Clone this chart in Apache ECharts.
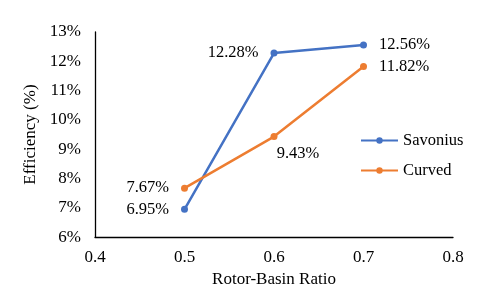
<!DOCTYPE html>
<html><head><meta charset="utf-8">
<script src="https://cdn.jsdelivr.net/npm/echarts@6/dist/echarts.min.js"></script>
<style>html,body{margin:0;padding:0;background:#fff}#c{width:480px;height:293px}</style>
</head><body><div id="c"></div>
<script>
var ratios = [0.5, 0.6, 0.7];
var savonius = [6.95, 12.28, 12.56];
var curved = [7.67, 9.43, 11.82];
var savLabelPos = ['left', 'left', 'right'];
var curLabelPos = ['left', 'bottom', 'right'];
var F = 'Liberation Serif, Times New Roman, serif';
function mk(vals, pos) {
  return vals.map(function (v, i) {
    var lab = { position: pos[i] };
    if (pos[i] === 'bottom') { lab.offset = [24, 0]; lab.distance = 5; }
    return { value: [ratios[i], v], label: lab };
  });
}
var chart = echarts.init(document.getElementById('c'));
chart.setOption({
  animation: false,
  grid: { left: 95, right: 27, top: 32, bottom: 54 },
  legend: {
    orient: 'vertical', left: 355, top: 127, itemGap: 13, itemWidth: 37, itemHeight: 8,
    textStyle: { fontFamily: F, fontSize: 16.5, color: '#000' },
    data: ['Savonius', 'Curved']
  },
  xAxis: {
    type: 'value', min: 0.4, max: 0.8, interval: 0.1,
    name: 'Rotor-Basin Ratio', nameLocation: 'middle', nameGap: 29,
    nameTextStyle: { fontFamily: F, fontSize: 17, color: '#000' },
    axisLine: { lineStyle: { color: '#000', width: 1.3 } },
    axisTick: { show: false }, splitLine: { show: false },
    axisLabel: { fontFamily: F, fontSize: 17, color: '#000', margin: 12,
      formatter: function (v) { return v.toFixed(1); } }
  },
  yAxis: {
    type: 'value', min: 6, max: 13, interval: 1,
    name: 'Efficiency (%)', nameLocation: 'middle', nameGap: 48,
    nameTextStyle: { fontFamily: F, fontSize: 17, color: '#000' },
    axisLine: { show: true, lineStyle: { color: '#000', width: 1.3 } },
    axisTick: { show: false }, splitLine: { show: false },
    axisLabel: { fontFamily: F, fontSize: 17, color: '#000', margin: 14,
      formatter: function (v) { return v + '%'; } }
  },
  series: [
    { name: 'Savonius', type: 'line', data: mk(savonius, savLabelPos),
      symbol: 'circle', symbolSize: 7, color: '#4472C4',
      lineStyle: { width: 2.5, color: '#4472C4' }, itemStyle: { color: '#4472C4' },
      label: { show: true, distance: 12, fontFamily: F, fontSize: 16.5, color: '#000',
        formatter: function (p) { return p.value[1].toFixed(2) + '%'; } } },
    { name: 'Curved', type: 'line', data: mk(curved, curLabelPos),
      symbol: 'circle', symbolSize: 7, color: '#ED7D31',
      lineStyle: { width: 2.5, color: '#ED7D31' }, itemStyle: { color: '#ED7D31' },
      label: { show: true, distance: 12, fontFamily: F, fontSize: 16.5, color: '#000',
        formatter: function (p) { return p.value[1].toFixed(2) + '%'; } } }
  ]
});
</script></body></html>
